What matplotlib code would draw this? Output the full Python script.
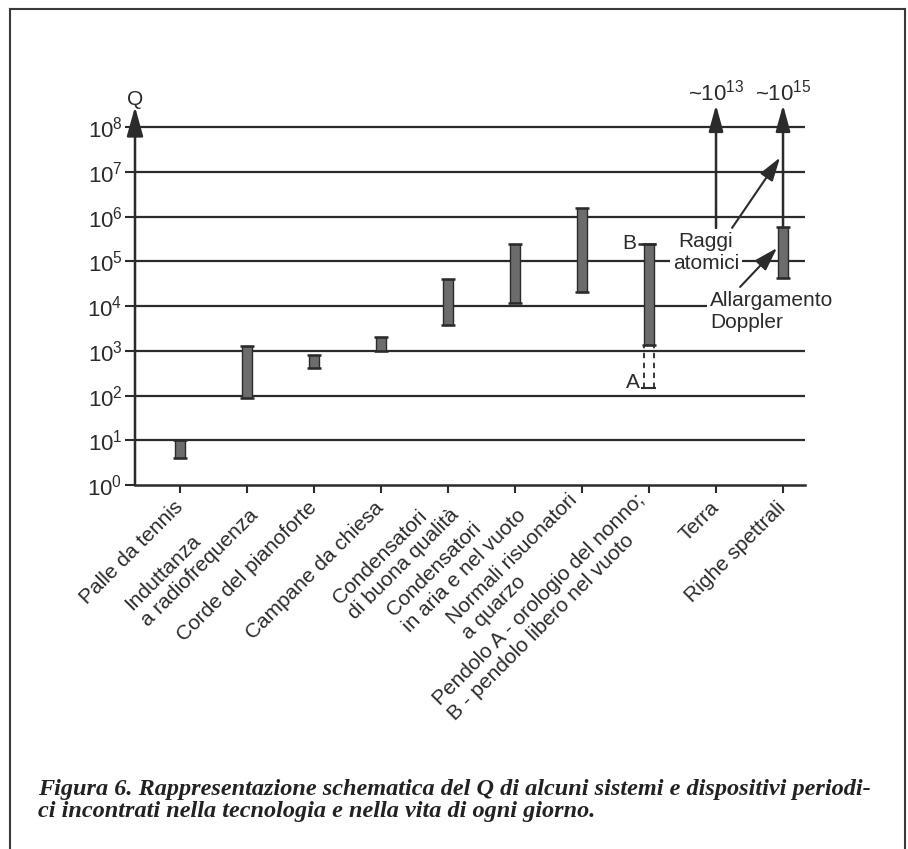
import matplotlib
matplotlib.use("Agg")
import matplotlib.pyplot as plt
from matplotlib.lines import Line2D
from matplotlib.ticker import NullLocator

plt.rcParams["font.family"] = ["Liberation Sans", "DejaVu Sans"]

# dati
categories = [
    "Palle da tennis",
    "Induttanza\na radiofrequenza",
    "Corde del pianoforte",
    "Campane da chiesa",
    "Condensatori\ndi buona qualità",
    "Condensatori\nin aria e nel vuoto",
    "Normali risuonatori\na quarzo",
    "Pendolo A - orologio del nonno;\nB - pendolo libero nel vuoto",
    "Terra",
    "Righe spettrali",
]
q_low = [4, 90, 420, 1000, 3800, 12000, 21000, 1350, None, 43000]
q_high = [10, 1300, 800, 2000, 40000, 250000, 1600000, 250000, None, 590000]
pendolo_a_low = 150
arrow_idx = [8, 9]
arrow_start = [560000, 590000]
arrow_exp = ["13", "15"]
decades = list(range(0, 9))

caption_1 = ("Figura 6. Rappresentazione schematica del Q di alcuni sistemi "
             "e dispositivi periodi-")
caption_2 = "ci incontrati nella tecnologia e nella vita di ogni giorno."

INK = "#2b2b2b"
BAR = "#6c6c6c"
W, H = 908, 849

fig = plt.figure(figsize=(W / 100, H / 100), dpi=100)
ax = fig.add_axes([135 / W, 1 - 485 / H, 670 / W, 385 / H])
ax.set_yscale("log")
ax.set_xlim(-0.672, 9.328)
ax.set_ylim(1, 10**8.61)
for s in ["top", "right", "left"]:
    ax.spines[s].set_visible(False)
ax.spines["bottom"].set_linewidth(1.8)
ax.spines["bottom"].set_color(INK)

for k in decades[1:]:
    ax.axhline(10**k, color=INK, lw=1.6, zorder=1)

ax.set_yticks([10**k for k in decades],
              [rf"$\mathregular{{10^{{{k}}}}}$" for k in decades], fontsize=16)
ax.yaxis.set_minor_locator(NullLocator())
ax.tick_params(axis="y", length=7, width=1.5, pad=2, colors=INK)
ax.tick_params(axis="x", length=6, width=1.5, pad=8, colors=INK)
ax.set_xticks(list(range(len(categories))), categories, rotation=45,
              ha="right", va="center", rotation_mode="anchor",
              multialignment="left", fontsize=15)

# asse Q con freccia
ax.annotate("", xy=(0, 10**8.46), xycoords=("axes fraction", "data"),
            xytext=(0, 1), textcoords=("axes fraction", "data"),
            arrowprops=dict(arrowstyle="-|>,head_length=0.9,head_width=0.25",
                            color=INK, lw=1.8, shrinkA=0, shrinkB=0,
                            mutation_scale=20),
            annotation_clip=False)
ax.text(0, 10**8.62, "Q", transform=ax.get_yaxis_transform(), ha="center",
        va="center", fontsize=15, color=INK, clip_on=False)

# barre
bw = 0.15
for i, (lo, hi) in enumerate(zip(q_low, q_high)):
    if lo is None:
        continue
    ax.bar(i, hi - lo, bottom=lo, width=bw, color=BAR, edgecolor=INK,
           lw=1, zorder=3)
    ax.hlines([lo, hi], i - 0.11, i + 0.11, color=INK, lw=1.8, zorder=4)

# pendolo: tratto A tratteggiato
ax.vlines([7 - bw / 2, 7 + bw / 2], pendolo_a_low, q_low[7], color=INK,
          lw=1.3, linestyles=(0, (3, 2.5)), zorder=3)
ax.hlines(pendolo_a_low, 7 - 0.12, 7 + 0.1, color=INK, lw=1.5, zorder=4)
ax.hlines(q_high[7], 7 - 0.17, 7 + 0.1, color=INK, lw=1.8, zorder=4)
ax.text(7 - 0.19, q_high[7], "B", ha="right", va="center", fontsize=15,
        color=INK)
ax.text(7 - 0.13, pendolo_a_low, "A", ha="right", va="baseline",
        fontsize=15, color=INK)

# valori fuori scala
for i, start, e in zip(arrow_idx, arrow_start, arrow_exp):
    ax.annotate("", xy=(i, 10**8.5), xytext=(i, start),
                arrowprops=dict(arrowstyle="-|>,head_length=0.8,head_width=0.22",
                                color=INK, lw=1.8, shrinkA=0, shrinkB=0,
                                mutation_scale=20),
                annotation_clip=False, zorder=2)
    ax.text(i, 10**8.6, "~" + rf"$\mathregular{{10^{{{e}}}}}$", ha="center",
            va="baseline", fontsize=16, color=INK, clip_on=False)

# annotazioni
box = dict(facecolor="white", edgecolor="none", pad=2)
ax.text(7.85, 10**5.21, "Raggi\natomici", ha="center", va="center",
        fontsize=15, color=INK, bbox=box, zorder=6)
ax.text(7.91, 10**3.87, "Allargamento\nDoppler", ha="left", va="center",
        fontsize=15, color=INK, bbox=box, zorder=6, clip_on=False)
arrow_kw = dict(arrowstyle="-|>,head_length=0.8,head_width=0.25", color=INK,
                lw=1.5, shrinkA=0, shrinkB=0, mutation_scale=18)
ax.annotate("", xy=(8.955, 2.1e7), xytext=(8.24, 10**5.75),
            arrowprops=arrow_kw, zorder=7)
ax.annotate("", xy=(8.91, 2.0e5), xytext=(8.36, 10**4.43),
            arrowprops=arrow_kw, zorder=7)

# cornice
frame_kw = dict(transform=fig.transFigure, color="#3a3a3a", lw=1.5)
fig.add_artist(Line2D([10 / W, 10 / W], [0, 1 - 9 / H], **frame_kw))
fig.add_artist(Line2D([10 / W, 905 / W], [1 - 9 / H, 1 - 9 / H], **frame_kw))
fig.add_artist(Line2D([905 / W, 905 / W], [1 - 9 / H, 0], **frame_kw))

# didascalia
cap_kw = dict(family="Liberation Serif", weight="bold", style="italic",
              fontsize=17.5, color="#222222", va="center", ha="left")
fig.text(38 / W, 1 - 789 / H, caption_1, **cap_kw)
fig.text(38 / W, 1 - 812 / H, caption_2, **cap_kw)

fig.savefig("out.png", dpi=100, facecolor="white")
